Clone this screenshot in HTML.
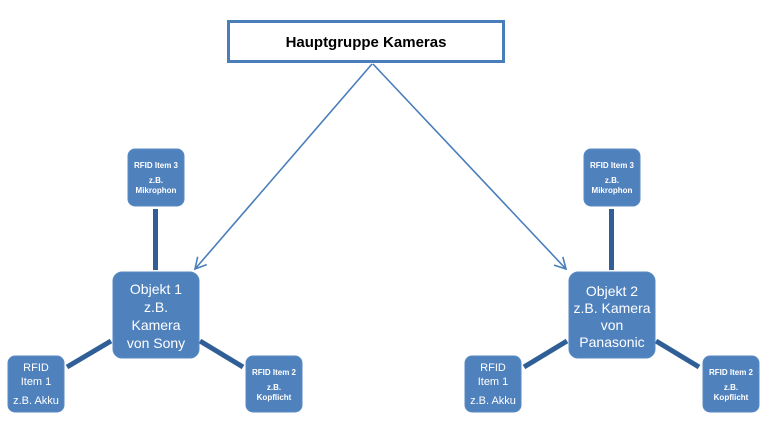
<!DOCTYPE html>
<html><head><meta charset="utf-8"><style>
html,body{margin:0;padding:0;background:#fff;}
svg{display:block;}
text{font-family:"Liberation Sans",sans-serif;fill:#fff;text-anchor:middle;}
</style></head><body>
<svg width="769" height="441" viewBox="0 0 769 441" xmlns="http://www.w3.org/2000/svg">
<defs>
<marker id="ah" markerWidth="14" markerHeight="14" refX="12" refY="7" orient="auto" markerUnits="userSpaceOnUse">
<path d="M1,1 L12,7 L1,13" fill="none" stroke="#4a7ebb" stroke-width="1.6"/>
</marker>
</defs>
<rect x="228.5" y="21.5" width="275" height="40" fill="#fff" stroke="#4a7ebb" stroke-width="3"/>
<text x="366" y="47" style="fill:#000;font-weight:bold;font-size:15px">Hauptgruppe Kameras</text>
<line x1="372" y1="64" x2="195" y2="269" stroke="#4a7ebb" stroke-width="1.6" marker-end="url(#ah)"/>
<line x1="373" y1="64" x2="566" y2="269" stroke="#4a7ebb" stroke-width="1.6" marker-end="url(#ah)"/>
<g stroke="#2f5f96" stroke-width="5">
<line x1="155.5" y1="209" x2="155.5" y2="270"/>
<line x1="67" y1="367" x2="111" y2="341"/>
<line x1="200" y1="341" x2="243" y2="367"/>
<line x1="611.5" y1="209" x2="611.5" y2="270"/>
<line x1="524" y1="367" x2="567" y2="341"/>
<line x1="656" y1="341" x2="699" y2="367"/>
</g>
<g fill="#4f81bd" stroke="#5a8ac4" stroke-width="1">
<rect x="128" y="149" width="56" height="57" rx="7"/>
<rect x="113" y="272" width="86" height="86" rx="9"/>
<rect x="8" y="356" width="56" height="56" rx="7"/>
<rect x="246" y="356" width="56" height="56" rx="7"/>
<rect x="584" y="149" width="56" height="57" rx="7"/>
<rect x="569" y="272" width="86" height="86" rx="9"/>
<rect x="465" y="356" width="56" height="56" rx="7"/>
<rect x="703" y="356" width="56" height="56" rx="7"/>
</g>
<g style="font-size:8px;font-weight:bold">
<text x="156" y="168">RFID Item 3</text><text x="156" y="183">z.B.</text><text x="156" y="193">Mikrophon</text>
<text x="612" y="168">RFID Item 3</text><text x="612" y="183">z.B.</text><text x="612" y="193">Mikrophon</text>
<text x="274" y="375">RFID Item 2</text><text x="274" y="390">z.B.</text><text x="274" y="400">Kopflicht</text>
<text x="731" y="375">RFID Item 2</text><text x="731" y="390">z.B.</text><text x="731" y="400">Kopflicht</text>
</g>
<g style="font-size:11px">
<text x="36" y="371">RFID</text><text x="36" y="385">Item 1</text><text x="36" y="404">z.B. Akku</text>
<text x="493" y="371">RFID</text><text x="493" y="385">Item 1</text><text x="493" y="404">z.B. Akku</text>
</g>
<g style="font-size:14px">
<text x="156" y="294">Objekt 1</text><text x="156" y="312">z.B.</text><text x="156" y="330">Kamera</text><text x="156" y="348">von Sony</text>
<text x="612" y="296">Objekt 2</text><text x="612" y="313">z.B. Kamera</text><text x="612" y="330">von</text><text x="612" y="347">Panasonic</text>
</g>
</svg>
</body></html>
